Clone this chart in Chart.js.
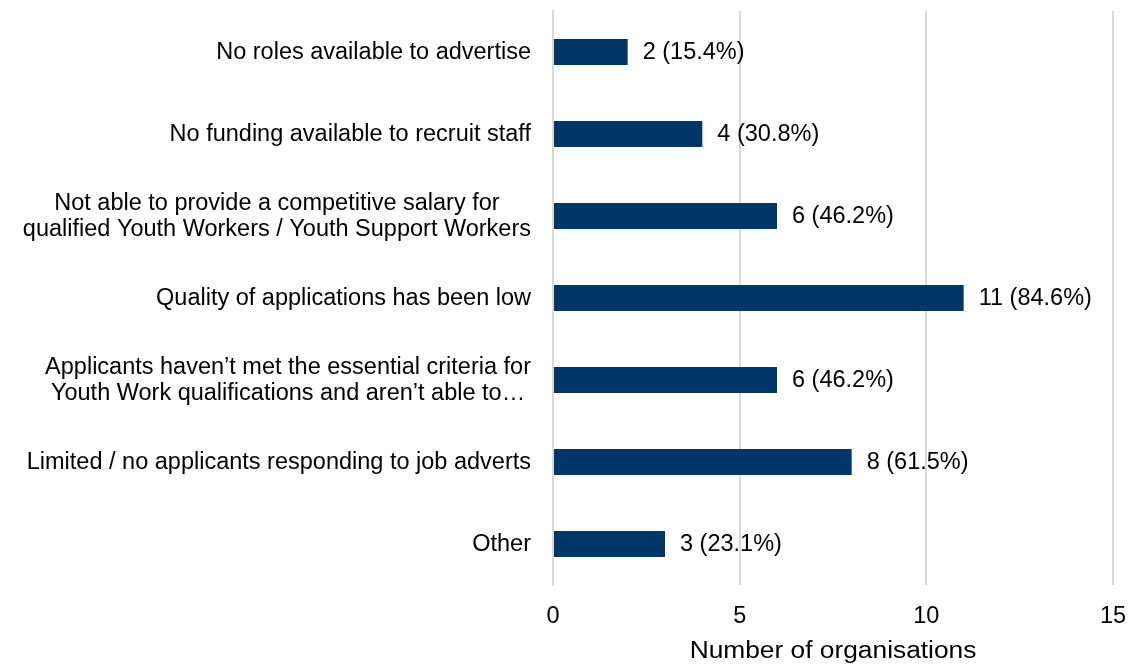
<!DOCTYPE html>
<html>
<head>
<meta charset="utf-8">
<script src="https://cdn.jsdelivr.net/npm/chart.js@4.4.1/dist/chart.umd.min.js"></script>
<style>
html,body{margin:0;padding:0;background:#fff;}
#wrap{width:1131px;height:664px;position:relative;}
</style>
</head>
<body>
<div id="wrap"><canvas id="c" width="1131" height="664"></canvas></div>
<script>
const categories = [
  ["No roles available to advertise"],
  ["No funding available to recruit staff"],
  ["Not able to provide a competitive salary for", "qualified Youth Workers / Youth Support Workers"],
  ["Quality of applications has been low"],
  ["Applicants haven\u2019t met the essential criteria for", "Youth Work qualifications and aren\u2019t able to\u2026"],
  ["Limited / no applicants responding to job adverts"],
  ["Other"]
];
const counts = [2, 4, 6, 11, 6, 8, 3];
const percents = ["15.4%", "30.8%", "46.2%", "84.6%", "46.2%", "61.5%", "23.1%"];
const xTicks = [0, 5, 10, 15];
const axisTitle = "Number of organisations";

const FONT = "Liberation Sans, Arial, sans-serif";
const FS = 23.5;

const labelPlugin = {
  id: 'labels',
  afterDatasetsDraw(chart) {
    const ctx = chart.ctx;
    const meta = chart.getDatasetMeta(0);
    ctx.save();
    ctx.font = FS + "px " + FONT;
    ctx.fillStyle = "#000";
    ctx.textBaseline = "middle";
    ctx.textAlign = "left";
    meta.data.forEach((bar, i) => {
      ctx.fillText(counts[i] + " (" + percents[i] + ")", bar.x + 15, bar.y + 1);
    });
    const yScale = chart.scales.y;
    const right = chart.chartArea.left - 22;
    const lh = 26;
    categories.forEach((lines, i) => {
      const cy = yScale.getPixelForValue(i);
      const widths = lines.map(l => ctx.measureText(l).width);
      const maxW = Math.max(...widths);
      const cx = right - maxW / 2;
      ctx.textAlign = "center";
      lines.forEach((l, j) => {
        const y = cy + 1 + (j - (lines.length - 1) / 2) * lh;
        ctx.fillText(l, cx, y);
      });
    });
    // axis title (slightly wide, as in the reference)
    const ca = chart.chartArea;
    const tx = (ca.left + ca.right) / 2;
    ctx.textBaseline = "alphabetic";
    ctx.textAlign = "center";
    ctx.translate(tx, 658);
    ctx.scale(1.12, 1);
    ctx.fillText(axisTitle, 0, 0);
    ctx.restore();
  }
};

new Chart(document.getElementById('c'), {
  type: 'bar',
  data: {
    labels: categories,
    datasets: [{
      data: counts,
      backgroundColor: '#003767',
      borderWidth: 0,
      categoryPercentage: 1,
      barPercentage: 0.32
    }]
  },
  options: {
    indexAxis: 'y',
    responsive: false,
    animation: false,
    events: [],
    layout: { padding: { top: 11, right: 18, left: 0, bottom: 0 } },
    plugins: { legend: { display: false }, tooltip: { enabled: false } },
    scales: {
      x: {
        min: 0, max: 15,
        afterBuildTicks(scale) { scale.ticks = xTicks.map(v => ({ value: v })); },
        grid: { color: '#d9d9d9', lineWidth: 2, drawTicks: false },
        border: { display: false },
        ticks: { color: '#000', font: { family: FONT, size: FS }, padding: 17 },
        title: { display: false },
        afterFit(scale) { scale.height = 79; scale.paddingLeft = 0; scale.paddingRight = 0; }
      },
      y: {
        grid: { display: false },
        border: { display: true, color: '#d9d9d9', width: 2 },
        ticks: { display: false },
        afterFit(scale) { scale.width = 553; scale.paddingTop = 0; scale.paddingBottom = 0; }
      }
    }
  },
  plugins: [labelPlugin]
});
</script>
</body>
</html>
